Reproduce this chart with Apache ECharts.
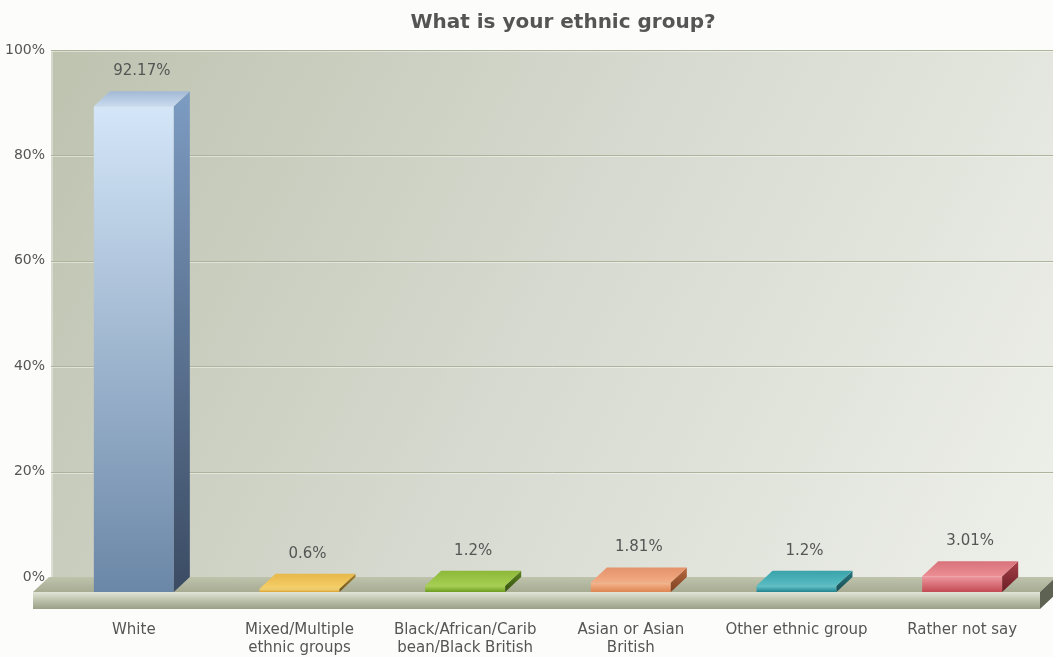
<!DOCTYPE html>
<html>
<head>
<meta charset="utf-8">
<script src="https://cdn.jsdelivr.net/npm/echarts@6/dist/echarts.min.js"></script>
<style>
  html, body { margin: 0; padding: 0; background: #fcfcfa; }
  #chart { width: 1053px; height: 657px; }
</style>
</head>
<body>
<div id="chart"></div>
<script>
// Survey answers: share of respondents per ethnic group (%)
const categories = [
  'White',
  'Mixed/Multiple\nethnic groups',
  'Black/African/Carib\nbean/Black British',
  'Asian or Asian\nBritish',
  'Other ethnic group',
  'Rather not say'
];
const values = [92.17, 0.6, 1.2, 1.81, 1.2, 3.01];
const yTicks = [0, 20, 40, 60, 80, 100];

// per bar: front top, front bottom, side top, side bottom, lid front, lid back
const barColors = [
  ['#d4e6f8', '#6b87a7', '#7d9cc2', '#3b4b63', '#c8daee', '#a3b9d4'],
  ['#f7d77a', '#dca232', '#a8822c', '#6e5218', '#f5d06a', '#e8b84a'],
  ['#acd458', '#6c9c22', '#5c8420', '#34500e', '#a6cf50', '#8cb83a'],
  ['#f6b890', '#de8452', '#b86a40', '#7c4020', '#f4ac84', '#e4926a'],
  ['#66c6ce', '#24848e', '#2a7880', '#164c52', '#58bcc4', '#3aa2aa'],
  ['#ef9aa0', '#c24a54', '#a8424a', '#6a1c24', '#ec8e94', '#d8727a']
];

const DX = 16;   // depth offset to the right
const DY = 15;   // depth offset upwards
const BAR_W = 80;
const FLOOR_H = 17;
const FONT = 'DejaVu Sans';

function vgrad(a, b) {
  return { type: 'linear', x: 0, y: 0, x2: 0, y2: 1,
    colorStops: [{ offset: 0, color: a }, { offset: 1, color: b }] };
}

// back wall, grid lines and the floor slab
function renderStage(params, api) {
  const cs = params.coordSys;
  const W = api.getWidth();
  const left = cs.x;
  const right = W + 4;
  const top = cs.y;
  const bottom = cs.y + cs.height;
  const kids = [];
  kids.push({
    type: 'rect',
    shape: { x: left, y: top, width: right - left, height: bottom - top },
    style: { fill: { type: 'linear', x: 0, y: 0, x2: 1, y2: 1,
      colorStops: [{ offset: 0, color: '#bec3b0' }, { offset: 0.5, color: '#d7dad0' }, { offset: 1, color: '#eef0ea' }] } }
  });
  kids.push({
    type: 'rect',
    shape: { x: left, y: top, width: 2, height: bottom - top },
    style: { fill: 'rgba(255,255,255,0.35)' }
  });
  yTicks.forEach(t => {
    const y = Math.round(api.coord([0, t])[1]) + 0.5;
    kids.push({ type: 'line', shape: { x1: left, y1: y, x2: right, y2: y },
      style: { stroke: '#aeb39c', lineWidth: 1 } });
    kids.push({ type: 'line', shape: { x1: left, y1: y + 1, x2: right, y2: y + 1 },
      style: { stroke: 'rgba(255,255,255,0.45)', lineWidth: 1 } });
  });
  const fl = left - 2;
  const fr = W + 3;
  kids.push({
    type: 'polygon',
    shape: { points: [[fl, bottom], [fr, bottom], [fr - DX, bottom + DY], [fl - DX, bottom + DY]] },
    style: { fill: vgrad('#bfc3ac', '#a6ab92') }
  });
  kids.push({
    type: 'rect',
    shape: { x: fl - DX, y: bottom + DY, width: fr - fl, height: FLOOR_H },
    style: { fill: { type: 'linear', x: 0, y: 0, x2: 0, y2: 1,
      colorStops: [{ offset: 0, color: '#e2e5d8' }, { offset: 0.3, color: '#cbcfbb' }, { offset: 1, color: '#9a9f87' }] } }
  });
  kids.push({
    type: 'polygon',
    shape: { points: [[fr - DX, bottom + DY], [fr, bottom], [fr, bottom + FLOOR_H], [fr - DX, bottom + DY + FLOOR_H]] },
    style: { fill: '#5d6253' }
  });
  return { type: 'group', children: kids };
}

// one extruded bar with its value printed above
function renderBar(params, api) {
  const i = api.value(0);
  const v = api.value(1);
  const base = api.coord([i, 0]);
  const peak = api.coord([i, v]);
  const c = barColors[i];
  const x0 = base[0] - BAR_W / 2;
  const x1 = base[0] + BAR_W / 2;
  const yT = peak[1] + DY;
  const yB = base[1] + DY;
  return {
    type: 'group',
    children: [
      { type: 'rect', shape: { x: x0, y: yT, width: BAR_W, height: yB - yT },
        style: { fill: vgrad(c[0], c[1]) } },
      { type: 'polygon', shape: { points: [[x1, yT], [x1 + DX, yT - DY], [x1 + DX, yB - DY], [x1, yB]] },
        style: { fill: vgrad(c[2], c[3]) } },
      { type: 'polygon', shape: { points: [[x0, yT], [x1, yT], [x1 + DX, yT - DY], [x0 + DX, yT - DY]] },
        style: { fill: { type: 'linear', x: 0, y: 1, x2: 0, y2: 0,
          colorStops: [{ offset: 0, color: c[4] }, { offset: 1, color: c[5] }] } } },
      { type: 'text', x: base[0] + DX / 2, y: peak[1] - 20,
        style: { text: v + '%', align: 'center', verticalAlign: 'middle',
          fill: '#555555', fontSize: 15, fontFamily: FONT } }
    ]
  };
}

const chart = echarts.init(document.getElementById('chart'), null, { renderer: 'canvas' });
chart.setOption({
  backgroundColor: '#fcfcfa',
  animation: false,
  title: {
    text: 'What is your ethnic group?',
    left: 558, top: 6, textAlign: 'center',
    textStyle: { fontFamily: FONT, fontSize: 20, fontWeight: 'bold', color: '#555555', lineHeight: 24 }
  },
  grid: { left: 51, right: 8, top: 50, bottom: 80 },
  xAxis: {
    type: 'category',
    data: categories,
    axisLine: { show: false },
    axisTick: { show: false },
    splitLine: { show: false },
    axisLabel: { margin: 44, fontFamily: FONT, fontSize: 15, lineHeight: 18, color: '#555555', interval: 0 }
  },
  yAxis: {
    type: 'value',
    min: 0, max: 100, interval: 20,
    axisLine: { show: false },
    axisTick: { show: false },
    splitLine: { show: false },
    axisLabel: { formatter: '{value}%', margin: 6, fontFamily: FONT, fontSize: 14, color: '#555555' }
  },
  series: [
    { type: 'custom', name: 'stage', renderItem: renderStage, data: [[0, 0]], clip: false, silent: true, z: 1 },
    { type: 'custom', name: 'share', renderItem: renderBar, data: values.map((v, i) => [i, v]), clip: false, z: 2 }
  ]
});
</script>
</body>
</html>
